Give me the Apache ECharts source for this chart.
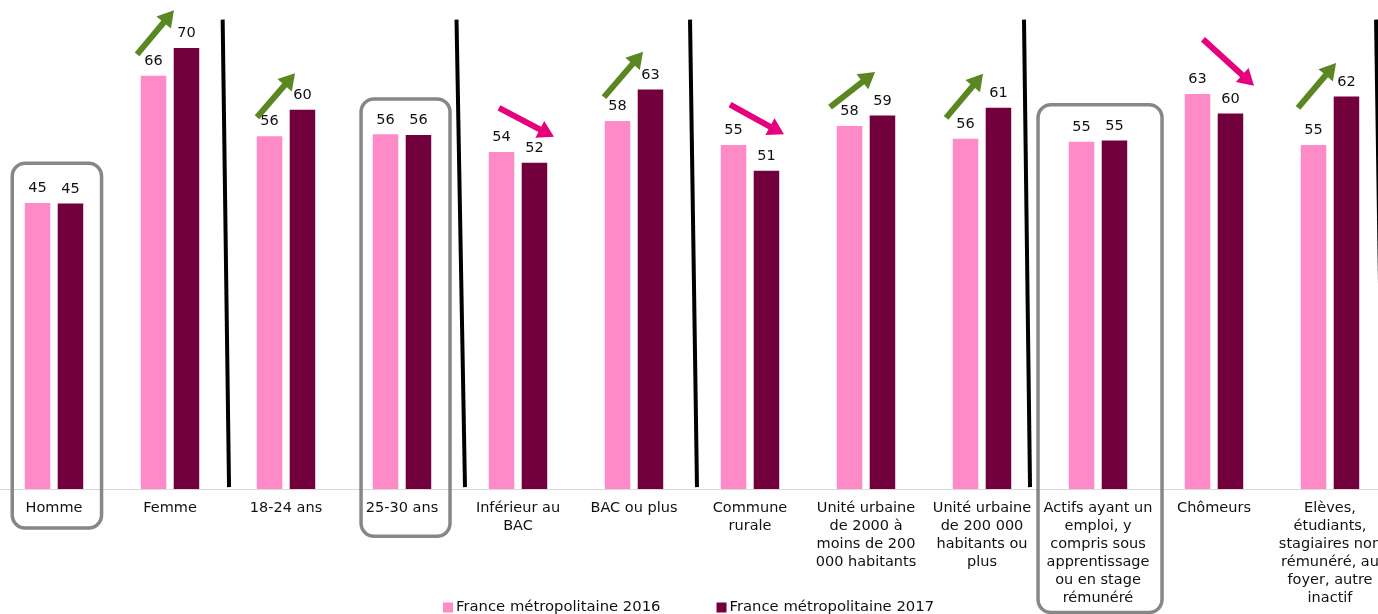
<!DOCTYPE html>
<html>
<head>
<meta charset="utf-8">
<script src="https://cdn.jsdelivr.net/npm/echarts@6/dist/echarts.min.js"></script>
<style>
html,body{margin:0;padding:0;background:#fff;width:1378px;height:614px;overflow:hidden;}
#chart{width:1392px;height:614px;margin-left:-4px;}
</style>
</head>
<body>
<div id="chart"></div>
<script>
// ---- data ----
const categories = [
  'Homme', 'Femme', '18-24 ans', '25-30 ans', 'Inférieur au\nBAC', 'BAC ou plus',
  'Commune\nrurale', 'Unité urbaine\nde 2000 à\nmoins de 200\n000 habitants',
  'Unité urbaine\nde 200 000\nhabitants ou\nplus',
  'Actifs ayant un\nemploi, y\ncompris sous\napprentissage\nou en stage\nrémunéré',
  'Chômeurs',
  'Elèves,\nétudiants,\nstagiaires non\nrémunéré, au\nfoyer, autre\ninactif'
];
const seriesNames = ['France métropolitaine 2016', 'France métropolitaine 2017'];
const values2016 = [45.4, 65.6, 56.0, 56.3, 53.5, 58.4, 54.6, 57.6, 55.6, 55.1, 62.7, 54.6];
const values2017 = [45.3, 70.0, 60.2, 56.2, 51.8, 63.4, 50.5, 59.3, 60.5, 55.3, 59.6, 62.3];

// ---- annotations (category index, offsets in band units, values) ----
const separators = [ // boundary after category index
  {after: 1, dxTop: -0.046, dxBot: 0.009},
  {after: 3, dxTop: -0.03, dxBot: 0.043},
  {after: 5, dxTop: -0.017, dxBot: 0.043},
  {after: 8, dxTop: -0.138, dxBot: -0.086},
  {after: 11, dxTop: -0.103, dxBot: -0.043}
];
const sepTopValue = 74.5, sepBotValue = 0.3;
const boxes = [
  {cat: 0, dxL: -0.36, dxR: 0.41, top: 51.7, bottom: -6.2},
  {cat: 3, dxL: -0.353, dxR: 0.414, top: 61.9, bottom: -7.5},
  {cat: 9, dxL: -0.517, dxR: 0.552, top: 61.0, bottom: -19.6}
];
const arrows = [
  {cat: 1, up: true, t: [-0.284, 69.0], h: [0.034, 76.0]},
  {cat: 2, up: true, t: [-0.25, 59.0], h: [0.078, 66.0]},
  {cat: 4, up: false, t: [-0.164, 60.5], h: [0.31, 55.9]},
  {cat: 5, up: true, t: [-0.259, 62.2], h: [0.078, 69.4]},
  {cat: 6, up: false, t: [-0.172, 61.0], h: [0.293, 56.3]},
  {cat: 7, up: true, t: [-0.31, 60.6], h: [0.078, 66.2]},
  {cat: 8, up: true, t: [-0.31, 58.9], h: [0.009, 65.9]},
  {cat: 10, up: false, t: [-0.095, 71.4], h: [0.345, 64.0]},
  {cat: 11, up: true, t: [-0.276, 60.5], h: [0.052, 67.6]}
];

const FONT = '"DejaVu Sans", Verdana, sans-serif';
const chart = echarts.init(document.getElementById('chart'), null, {renderer: 'canvas'});

const labelOpt = {
  show: true, position: 'top', distance: 7,
  fontFamily: FONT, fontSize: 14.5, color: '#111',
  formatter: p => Math.round(p.value)
};

chart.setOption({
  animation: false,
  backgroundColor: '#ffffff',
  grid: {left: 0, right: 0, top: 48, bottom: 125, containLabel: false},
  legend: {
    data: seriesNames,
    bottom: -6, left: 442,
    icon: 'rect', itemWidth: 10, itemHeight: 10, itemGap: 56,
    textStyle: {fontFamily: FONT, fontSize: 14.8, color: '#111', padding: [0, 0, 0, -2]}
  },
  xAxis: {
    type: 'category', data: categories,
    axisLine: {lineStyle: {color: '#d9d9d9', width: 1}},
    axisTick: {show: false},
    axisLabel: {interval: 0, fontFamily: FONT, fontSize: 14.5, lineHeight: 18, color: '#111', margin: 10}
  },
  yAxis: {type: 'value', min: 0, max: 70, show: false, splitLine: {show: false}},
  series: [
    {name: seriesNames[0], type: 'bar', data: values2016, barWidth: '22%', barGap: '29%',
     itemStyle: {color: '#ff8ac8'}, label: labelOpt},
    {name: seriesNames[1], type: 'bar', data: values2017, barWidth: '22%', barGap: '29%',
     itemStyle: {color: '#72003c'}, label: labelOpt}
  ]
});

function px(cat, dx, v) {
  const band = chart.getModel().getComponent('xAxis', 0).axis.getBandWidth();
  const p = chart.convertToPixel({gridIndex: 0}, [cat, 0]);
  const y0 = chart.convertToPixel({yAxisIndex: 0}, 0);
  const y1 = chart.convertToPixel({yAxisIndex: 0}, 10);
  const perUnit = (y0 - y1) / 10;
  return [p[0] + dx * band, y0 - v * perUnit];
}

const graphics = [];
separators.forEach(s => {
  const a = px(s.after, 0.5 + s.dxTop, sepTopValue);
  const b = px(s.after, 0.5 + s.dxBot, sepBotValue);
  graphics.push({type: 'line', z: 10, shape: {x1: a[0], y1: a[1], x2: b[0], y2: b[1]},
    style: {stroke: '#000', lineWidth: 4}});
});
boxes.forEach(bx => {
  const tl = px(bx.cat, bx.dxL, bx.top);
  const br = px(bx.cat, bx.dxR, bx.bottom);
  graphics.push({type: 'rect', z: 10,
    shape: {x: tl[0], y: tl[1], width: br[0] - tl[0], height: br[1] - tl[1], r: 13},
    style: {fill: null, stroke: '#878787', lineWidth: 3.5}});
});
arrows.forEach(ar => {
  const t = px(ar.cat, ar.t[0], ar.t[1]);
  const h = px(ar.cat, ar.h[0], ar.h[1]);
  const dx = h[0] - t[0], dy = h[1] - t[1];
  const L = Math.sqrt(dx * dx + dy * dy);
  const ux = dx / L, uy = dy / L, nx = -uy, ny = ux;
  const sw = 3, hl = 16, hw = 9.5;
  const bx = h[0] - ux * hl, by = h[1] - uy * hl;
  const pts = [
    [t[0] + nx * sw, t[1] + ny * sw],
    [bx + nx * sw, by + ny * sw],
    [bx + nx * hw, by + ny * hw],
    [h[0], h[1]],
    [bx - nx * hw, by - ny * hw],
    [bx - nx * sw, by - ny * sw],
    [t[0] - nx * sw, t[1] - ny * sw]
  ];
  graphics.push({type: 'polygon', z: 10, shape: {points: pts},
    style: {fill: ar.up ? '#5b8722' : '#e6007e'}});
});
chart.setOption({graphic: graphics});
</script>
</body>
</html>
